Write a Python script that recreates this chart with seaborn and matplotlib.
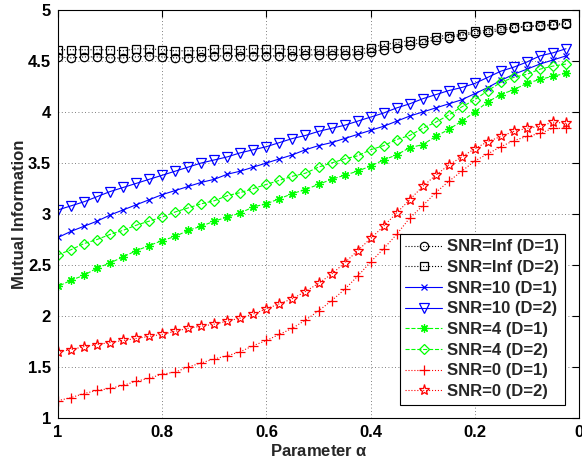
import numpy as np
import pandas as pd
import matplotlib
matplotlib.use("Agg")
import matplotlib.pyplot as plt
import seaborn as sns

# ===== data (alpha goes 1 -> 0.025) =====
alpha = [1.0, 0.975, 0.95, 0.925, 0.9, 0.875, 0.85, 0.825, 0.8, 0.775,
         0.75, 0.725, 0.7, 0.675, 0.65, 0.625, 0.6, 0.575, 0.55, 0.525,
         0.5, 0.475, 0.45, 0.425, 0.4, 0.375, 0.35, 0.325, 0.3, 0.275,
         0.25, 0.225, 0.2, 0.175, 0.15, 0.125, 0.1, 0.075, 0.05, 0.025]

snr_inf_d1 = [4.54, 4.53, 4.54, 4.54, 4.53, 4.53, 4.54, 4.55, 4.54, 4.53,
              4.53, 4.54, 4.55, 4.55, 4.55, 4.55, 4.55, 4.55, 4.55, 4.56,
              4.56, 4.56, 4.56, 4.56, 4.59, 4.61, 4.63, 4.66, 4.68, 4.71,
              4.73, 4.75, 4.77, 4.78, 4.80, 4.82, 4.84, 4.84, 4.85, 4.86]
snr_inf_d2 = [4.61, 4.61, 4.61, 4.61, 4.61, 4.60, 4.62, 4.62, 4.61, 4.60,
              4.60, 4.60, 4.62, 4.62, 4.61, 4.62, 4.62, 4.62, 4.61, 4.61,
              4.61, 4.61, 4.61, 4.61, 4.63, 4.66, 4.68, 4.70, 4.71, 4.74,
              4.75, 4.76, 4.79, 4.80, 4.82, 4.83, 4.84, 4.85, 4.86, 4.87]
snr10_d1 = [2.77, 2.83, 2.88, 2.93, 2.99, 3.04, 3.09, 3.14, 3.19, 3.23,
            3.27, 3.31, 3.34, 3.39, 3.42, 3.46, 3.50, 3.54, 3.58, 3.63,
            3.67, 3.70, 3.74, 3.78, 3.82, 3.86, 3.91, 3.96, 4.00, 4.04,
            4.08, 4.12, 4.18, 4.24, 4.31, 4.37, 4.42, 4.47, 4.51, 4.55]
snr10_d2 = [3.04, 3.08, 3.12, 3.17, 3.22, 3.26, 3.30, 3.34, 3.38, 3.42,
            3.46, 3.50, 3.53, 3.56, 3.60, 3.63, 3.66, 3.70, 3.74, 3.77,
            3.81, 3.84, 3.87, 3.91, 3.95, 3.99, 4.04, 4.08, 4.13, 4.17,
            4.21, 4.24, 4.28, 4.34, 4.40, 4.44, 4.49, 4.55, 4.58, 4.62]
snr4_d1 = [2.29, 2.35, 2.40, 2.47, 2.52, 2.58, 2.64, 2.69, 2.74, 2.78,
           2.84, 2.88, 2.93, 2.97, 3.01, 3.07, 3.10, 3.15, 3.20, 3.24,
           3.29, 3.34, 3.38, 3.42, 3.47, 3.53, 3.58, 3.65, 3.68, 3.76,
           3.83, 3.91, 4.00, 4.10, 4.17, 4.22, 4.28, 4.32, 4.35, 4.38]
snr4_d2 = [2.60, 2.65, 2.71, 2.75, 2.80, 2.84, 2.89, 2.93, 2.97, 3.02,
           3.06, 3.10, 3.13, 3.18, 3.21, 3.25, 3.29, 3.33, 3.37, 3.40,
           3.46, 3.50, 3.54, 3.57, 3.63, 3.67, 3.73, 3.77, 3.84, 3.90,
           3.97, 4.05, 4.12, 4.21, 4.29, 4.34, 4.37, 4.42, 4.45, 4.47]
snr0_d1 = [1.17, 1.20, 1.24, 1.27, 1.29, 1.32, 1.36, 1.39, 1.43, 1.45,
           1.50, 1.54, 1.58, 1.61, 1.65, 1.71, 1.76, 1.82, 1.88, 1.96,
           2.05, 2.15, 2.26, 2.39, 2.53, 2.66, 2.80, 2.96, 3.08, 3.21,
           3.32, 3.42, 3.52, 3.59, 3.66, 3.72, 3.76, 3.79, 3.84, 3.84]
snr0_d2 = [1.65, 1.67, 1.70, 1.72, 1.74, 1.76, 1.78, 1.80, 1.82, 1.85,
           1.88, 1.90, 1.92, 1.95, 1.98, 2.02, 2.07, 2.12, 2.17, 2.24,
           2.32, 2.41, 2.52, 2.64, 2.76, 2.88, 3.01, 3.14, 3.27, 3.38,
           3.48, 3.56, 3.64, 3.71, 3.76, 3.81, 3.84, 3.86, 3.90, 3.89]

labels = ["SNR=Inf (D=1)", "SNR=Inf (D=2)", "SNR=10 (D=1)", "SNR=10 (D=2)",
          "SNR=4 (D=1)", "SNR=4 (D=2)", "SNR=0 (D=1)", "SNR=0 (D=2)"]
series = [snr_inf_d1, snr_inf_d2, snr10_d1, snr10_d2,
          snr4_d1, snr4_d2, snr0_d1, snr0_d2]

x_ticks = [0, 0.2, 0.4, 0.6, 0.8, 1]
x_ticklabels = ["0", "0.2", "0.4", "0.6", "0.8", "1"]
y_ticks = [1, 1.5, 2, 2.5, 3, 3.5, 4, 4.5, 5]
y_ticklabels = ["1", "1.5", "2", "2.5", "3", "3.5", "4", "4.5", "5"]

# ===== style per series (color, marker, linestyle, markersize) =====
styles = [("black", "o", ":", 6),
          ("black", "s", ":", 5.5),
          ("blue", "x", "-", 5),
          ("blue", "v", "-", 6.5),
          ((0, 1, 0), (8, 2, 0), "--", 6),
          ((0, 1, 0), "D", "--", 5),
          ("red", "+", ":", 6.5),
          ("red", "*", ":", 8)]

sns.set_theme(style="white")
plt.rcParams["font.family"] = ["Liberation Sans", "DejaVu Sans"]
plt.rcParams["font.weight"] = "bold"
plt.rcParams["axes.labelweight"] = "bold"
plt.rcParams["mathtext.default"] = "regular"

fig = plt.figure(figsize=(5.82, 4.62), dpi=100)
ax = fig.add_axes([58 / 582, 1 - 418 / 462, 521 / 582, 408 / 462])

for lab, vals, (c, m, ls, ms) in zip(labels, series, styles):
    df = pd.DataFrame({"alpha": alpha, "mi": vals})
    sns.lineplot(data=df, x="alpha", y="mi", ax=ax, color=c, marker=m,
                 linestyle=ls, linewidth=0.8, markersize=ms,
                 markerfacecolor="none", markeredgecolor=c,
                 markeredgewidth=0.9, label=lab)

ax.set_xlim(1, 0)
ax.set_ylim(1, 5)
ax.set_xticks(x_ticks)
ax.set_xticklabels(x_ticklabels)
ax.set_yticks(y_ticks)
ax.set_yticklabels(y_ticklabels)
ax.tick_params(direction="in", length=5, width=0.8, top=True, right=True,
               labelsize=12, pad=5, colors="black")
for lbl in ax.get_xticklabels() + ax.get_yticklabels():
    lbl.set_fontweight("bold")
ax.grid(True, color="#555555", linestyle=(0, (1, 3)), linewidth=0.6)
for sp in ax.spines.values():
    sp.set_color("black")
    sp.set_linewidth(0.8)

ax.set_xlabel(r"Parameter $\alpha$", fontsize=12, fontweight="bold", labelpad=2)
ax.set_ylabel("Mutual Information", fontsize=12, fontweight="bold", labelpad=1)

# legend box: right edge ~565 px, bottom ~405 px in the reference
leg = ax.legend(loc="lower right", bbox_to_anchor=(565 / 582, 1 - 405 / 462),
                bbox_transform=fig.transFigure, borderaxespad=0,
                fontsize=12, frameon=True, fancybox=False,
                edgecolor="black", framealpha=1, handlelength=2.2,
                labelspacing=0.34, borderpad=0.35, handletextpad=0.3)
leg.get_frame().set_linewidth(0.8)
for t in leg.get_texts():
    t.set_fontweight("bold")

fig.savefig("out.png", dpi=100)
